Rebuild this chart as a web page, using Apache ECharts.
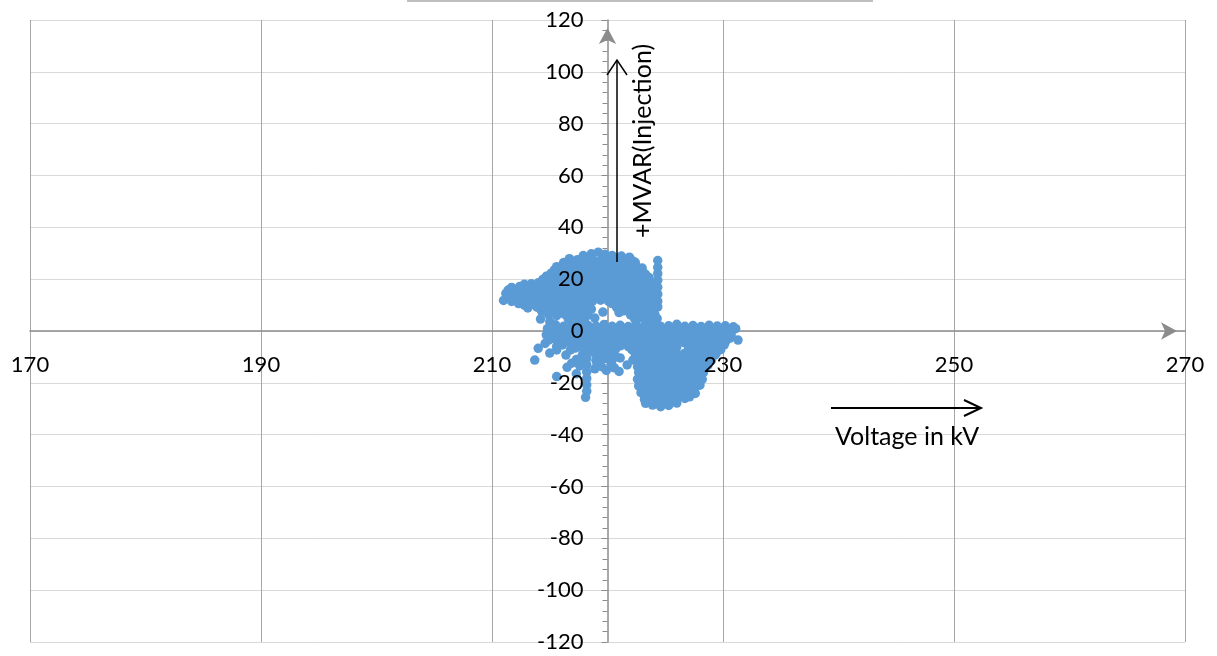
<!DOCTYPE html>
<html><head><meta charset="utf-8">
<script src="https://cdn.jsdelivr.net/npm/echarts@6/dist/echarts.min.js"></script>
<style>html,body{margin:0;padding:0;background:#fff}#c{width:1217px;height:656px}</style>
</head><body><div id="c"></div>
<script>
// Axis definitions
const xMin = 170, xMax = 270, xStep = 20;
const yMin = -120, yMax = 120, yStep = 20;
const yAxisCrossAt = 220; // vertical axis crosses horizontal axis at 220 kV

// Voltage (kV), MVAR pairs — upper (injection) cluster
const upperPoints = [
  [217.9,29.1],[218.6,29.8],[219.2,30.4],[219.8,29.6],[220.4,29.1],[221.2,28.9],[221.9,28.5],
  [216.7,27.9],[217.4,27.5],[218.1,27.8],[218.8,27.3],[219.5,27.7],[220.2,27.4],[220.9,27.9],[221.6,27.3],[222.2,27.0],[224.35,27.2],
  [216.2,26.4],[216.9,26.7],[217.6,26.2],[218.3,26.6],[219.0,26.3],[219.7,26.7],[220.4,26.2],[221.1,26.6],[221.8,26.3],[222.4,26.5],
  [215.6,24.8],[216.2,25.3],[216.9,24.9],[217.6,25.4],[218.3,25.0],[219.0,25.2],[219.7,24.8],[220.4,25.3],[221.1,25.0],[221.8,25.4],[222.5,24.9],[223.0,24.3],[224.35,24.6],
  [215.4,23.6],[216.1,24.0],[216.8,23.7],[217.5,24.1],[218.2,23.6],[218.9,23.9],[219.6,23.5],[220.3,24.0],[221.0,23.7],[221.7,24.0],[222.4,23.6],[223.0,23.2],
  [215.1,22.2],[215.8,22.7],[216.5,22.3],[217.2,22.6],[217.9,22.1],[218.6,22.5],[219.3,22.2],[220.0,22.7],[220.7,22.3],[221.4,22.6],[222.1,22.2],[222.8,22.5],[223.3,21.9],[224.35,22.1],
  [214.7,21.1],[215.4,20.8],[216.1,21.2],[216.8,20.9],[217.5,21.3],[218.2,20.8],[218.9,21.2],[219.6,20.9],[220.3,21.3],[221.0,20.8],[221.7,21.1],[222.4,20.8],[223.1,21.2],[223.6,20.6],
  [214.4,19.9],[215.1,19.5],[215.8,19.9],[216.5,19.4],[217.2,19.8],[217.9,19.5],[218.6,19.9],[219.3,19.6],[220.0,19.8],[220.7,19.4],[221.4,19.9],[222.1,19.5],[222.8,19.8],[223.5,19.3],[224.35,19.6],
  [212.8,18.0],[213.4,18.2],[214.0,18.6],[214.8,18.2],[215.5,18.5],[216.2,18.1],[216.9,18.4],[217.6,18.0],[218.3,18.5],[219.0,18.2],[219.7,18.4],[220.4,18.0],[221.1,18.5],[221.8,18.1],[222.5,18.4],[223.2,18.0],[223.8,18.4],
  [211.7,16.8],[212.4,17.2],[213.1,16.9],[213.8,17.3],[214.5,16.8],[215.2,17.1],[215.9,16.7],[216.6,17.2],[217.3,16.9],[218.0,17.3],[218.7,16.8],[219.4,17.1],[220.1,16.7],[220.8,17.2],[221.5,16.9],[222.2,17.3],[222.9,16.8],[223.6,17.1],[224.35,16.9],
  [211.4,15.8],[212.0,15.4],[212.7,15.7],[213.4,15.3],[214.1,15.8],[214.8,15.4],[215.5,15.7],[216.2,15.3],[216.9,15.8],[217.6,15.4],[218.3,15.7],[219.0,15.3],[219.7,15.8],[220.4,15.4],[221.1,15.7],[221.8,15.3],[222.5,15.8],[223.2,15.4],[223.8,15.7],
  [211.2,14.5],[211.9,14.1],[212.6,14.6],[213.3,14.2],[214.0,14.5],[214.7,14.0],[215.4,14.4],[216.1,14.1],[216.8,14.6],[217.5,14.2],[218.2,14.5],[218.9,14.0],[219.6,14.4],[220.3,14.1],[221.0,14.6],[221.7,14.2],[222.4,14.5],[223.1,14.0],[223.7,14.4],[224.35,14.2],
  [211.5,12.8],[212.2,13.1],[212.9,12.7],[213.6,13.2],[214.3,12.8],[215.0,13.1],[215.7,12.7],[216.4,13.2],[217.1,12.8],[217.8,13.1],[218.5,12.7],[219.2,13.2],[219.9,12.8],[220.6,13.1],[221.3,12.7],[222.0,13.2],[222.7,12.8],[223.4,13.1],[224.0,12.6],
  [211.0,11.8],[211.7,11.4],[212.4,11.7],[213.1,11.3],[213.8,11.8],[214.5,11.5],[215.2,11.9],[215.9,11.4],[216.6,11.7],[217.3,11.3],[218.0,11.8],[218.7,11.5],[219.4,11.9],[220.1,11.4],[220.8,11.7],[221.5,11.3],[222.2,11.8],[222.9,11.4],[223.6,11.7],[224.35,11.5],
  [212.3,10.6],[212.8,10.0],[213.5,10.4],[214.2,10.1],[214.9,10.5],[215.6,10.0],[216.3,10.3],[217.0,10.1],[217.7,10.4],[218.4,10.0],[220.4,10.6],[221.1,10.2],[221.8,10.5],[222.5,10.0],[223.2,10.4],[223.9,10.1],
  [213.1,8.9],[213.9,9.2],[214.6,8.7],[215.3,9.1],[216.0,8.6],[216.7,9.0],[217.4,8.7],[218.1,9.1],[218.6,8.4],[220.8,9.0],[221.4,9.4],[222.1,8.7],[222.8,9.1],[223.5,8.6],[224.35,9.3],
  [214.3,7.6],[215.0,7.4],[215.7,7.8],[216.4,7.4],[217.1,7.7],[217.8,7.3],[218.2,7.9],[221.4,7.8],[222.4,7.6],[223.1,7.9],[223.8,7.4],
  [214.2,4.6],[214.9,6.3],[215.0,3.6],[215.6,5.9],[216.3,6.4],[217.0,6.0],[217.7,6.5],[218.3,6.1],[218.9,5.0],[219.6,7.3],[221.0,7.1],[222.0,6.2],[222.7,6.5],[223.4,6.0],[224.1,6.4],
  [216.6,4.7],[217.4,4.5],[218.0,4.3],[222.3,5.2],[222.4,4.3],[223.0,5.0],[223.6,4.0],[223.7,5.3],[224.3,4.8]
];

// Near-zero band
const bandPoints = [
  [215.5,2.4],[216.2,1.8],[216.9,2.3],[217.6,1.7],[218.3,2.2],[219.0,1.9],[219.7,2.5],[220.4,1.8],[221.1,2.2],[221.8,1.7],[222.5,2.3],[223.2,1.9],[223.9,2.4],[224.6,1.8],[225.3,2.0],[226.0,2.6],[226.7,1.8],[227.4,2.1],[228.1,1.7],[228.8,2.2],[229.5,1.9],[230.2,2.0],[230.9,1.6],
  [214.8,0.9],[215.6,0.8],[216.3,0.5],[217.0,0.9],[217.7,0.4],[218.4,0.8],[219.1,0.5],[219.8,0.9],[220.5,0.4],[221.2,0.8],[221.9,0.5],[222.6,0.9],[223.3,0.4],[224.0,0.8],[224.7,0.5],[225.4,0.9],[226.1,0.4],[226.8,0.8],[227.5,0.5],[228.2,0.9],[228.9,0.4],[229.6,0.8],[230.3,0.5],[230.8,0.3],
  [215.2,-0.4],[215.9,-0.9],[216.6,-0.3],[217.3,-0.8],[218.0,-0.2],[218.7,-0.7],[219.4,-0.3],[220.1,-0.9],[220.8,-0.4],[221.5,-0.8],[222.2,-0.2],[222.9,-0.7],[223.6,-0.3],[224.3,-0.9],[225.0,-0.4],[225.7,-0.8],[226.4,-0.3],[227.1,-0.7],[227.8,-0.2],[228.5,-0.8],[229.2,-0.4],[229.9,-0.7],[230.6,-0.3],[231.1,0.9],
  [214.7,-1.5],[215.5,-1.8],[216.2,-2.1],[216.9,-1.7],[217.6,-2.2],[218.3,-1.8],[219.0,-2.0],[219.7,-1.6],[220.4,-2.1],[221.1,-1.8],[221.8,-2.2],[222.5,-1.7],[223.2,-2.0],[223.9,-1.6],[224.6,-2.1],[225.3,-1.8],[226.0,-2.2],[226.7,-1.7],[227.4,-2.0],[228.1,-1.8],[228.8,-2.1],[229.5,-1.7],[230.2,-2.0],[230.7,-1.6],
  [214.9,-3.5],[215.4,-3.0],[216.1,-3.5],[216.8,-2.9],[217.5,-3.4],[218.2,-3.0],[218.9,-3.6],[219.6,-2.9],[220.3,-3.4],[221.0,-3.1],[221.7,-3.5],[222.4,-2.9],[223.1,-3.4],[223.8,-3.0],[224.5,-3.6],[225.2,-3.1],[225.9,-3.4],[226.6,-2.9],[227.3,-3.5],[228.0,-3.0],[228.7,-3.4],[229.4,-3.1],[230.1,-3.3],[230.6,-2.8],[231.3,-3.5]
];

// Lower (absorption) cluster
const lowerPoints = [
  [216.2,-4.4],[216.9,-4.7],[217.6,-4.3],[218.3,-4.6],[219.0,-4.4],[219.7,-4.8],[220.4,-4.3],[221.1,-4.6],[221.8,-4.4],[222.5,-4.7],[223.2,-4.3],[223.9,-4.6],[224.6,-4.4],[225.3,-4.8],[226.0,-4.3],[226.7,-4.6],[227.4,-4.4],[228.1,-4.7],[228.8,-4.3],[229.5,-4.6],[230.2,-4.3],
  [214.6,-4.8],[215.6,-5.9],[216.1,-5.4],[216.9,-5.6],[217.6,-6.1],[218.3,-5.5],[219.0,-6.0],[219.7,-5.6],[220.4,-6.2],[221.1,-5.7],[221.8,-6.0],[222.5,-5.5],[223.2,-6.1],[223.9,-5.7],[224.6,-6.0],[225.3,-5.6],[226.0,-6.2],[227.4,-5.7],[228.1,-6.0],[228.8,-5.5],[229.5,-5.9],[230.1,-5.4],
  [216.8,-7.3],[217.9,-7.0],[218.6,-7.3],[219.3,-6.9],[220.0,-7.2],[220.7,-7.0],[222.1,-7.2],[222.8,-6.9],[223.5,-7.3],[224.2,-7.0],[224.9,-7.2],[225.6,-6.9],[227.0,-7.1],[227.7,-6.9],[228.4,-7.3],[229.1,-7.0],[229.8,-7.2],
  [214.0,-6.7],[215.0,-8.5],[215.6,-7.3],[216.4,-9.3],[217.2,-6.6],[218.2,-8.3],[218.9,-8.6],[219.6,-8.1],[220.3,-8.7],[222.4,-8.8],[223.1,-8.2],[223.8,-8.6],[224.5,-8.1],[225.2,-8.7],[225.9,-8.3],[226.6,-8.8],[227.3,-8.2],[228.0,-8.6],[228.7,-8.3],[229.4,-8.7],
  [217.8,-9.5],[219.3,-9.8],[220.0,-9.5],[220.7,-9.9],[222.6,-9.6],[223.3,-9.9],[224.0,-9.5],[224.7,-9.8],[225.4,-9.5],[226.1,-9.9],[226.8,-9.6],[227.5,-9.8],[228.2,-9.5],[228.9,-9.8],[229.3,-9.3],
  [213.7,-11.2],[217.3,-11.0],[218.2,-10.5],[219.0,-11.3],[219.7,-10.6],[220.4,-11.2],[221.1,-10.4],[222.2,-11.2],[222.9,-10.8],[223.6,-11.3],[224.3,-10.7],[225.0,-11.2],[225.7,-10.8],[226.4,-11.3],[227.1,-10.7],[227.8,-11.1],[228.5,-10.8],[229.0,-11.3],
  [216.9,-12.4],[217.8,-12.1],[219.1,-12.5],[222.9,-12.2],[223.6,-12.6],[224.3,-12.1],[225.0,-12.5],[225.7,-12.2],[226.4,-12.6],[227.1,-12.1],[227.8,-12.5],[228.5,-12.3],
  [216.5,-14.0],[217.6,-13.5],[218.2,-13.0],[219.5,-13.8],[220.3,-12.8],[221.7,-13.1],[222.6,-13.8],[223.3,-13.3],[224.0,-13.9],[224.7,-13.4],[225.4,-13.8],[226.1,-13.3],[226.8,-13.9],[227.5,-13.4],[228.2,-13.8],[228.7,-13.2],
  [218.9,-14.6],[220.6,-14.2],[222.9,-14.8],[223.6,-15.2],[224.3,-14.7],[225.0,-15.1],[225.7,-14.8],[226.4,-15.2],[227.1,-14.7],[227.8,-15.1],[228.4,-14.8],
  [217.3,-16.5],[218.2,-15.8],[219.9,-15.2],[221.0,-15.6],[222.7,-16.0],[223.4,-16.5],[224.1,-16.0],[224.8,-16.4],[225.5,-15.9],[226.2,-16.5],[226.9,-16.0],[227.6,-16.4],[228.3,-16.1],
  [223.0,-17.4],[223.7,-17.8],[224.4,-17.3],[225.1,-17.7],[225.8,-17.4],[226.5,-17.8],[227.2,-17.3],[227.9,-17.6],
  [215.6,-17.6],[218.2,-18.3],[222.6,-18.6],[223.3,-19.1],[224.0,-18.6],[224.7,-19.0],[225.4,-18.5],[226.1,-19.1],[226.8,-18.6],[227.5,-19.0],[228.2,-18.7],
  [223.0,-20.0],[223.7,-20.4],[224.4,-19.9],[225.1,-20.3],[225.8,-20.0],[226.5,-20.4],[227.2,-19.9],[227.9,-20.2],
  [218.2,-20.8],[222.7,-21.2],[223.4,-21.7],[224.1,-21.2],[224.8,-21.6],[225.5,-21.1],[226.2,-21.7],[226.9,-21.3],[227.6,-21.6],[228.0,-20.9],
  [223.2,-22.6],[223.9,-22.9],[224.6,-22.5],[225.3,-22.8],[226.0,-22.4],[226.7,-22.9],[227.4,-22.6],
  [218.2,-23.2],[222.9,-23.8],[223.6,-24.3],[224.3,-23.9],[225.0,-24.4],[225.7,-23.8],[226.4,-24.2],[227.1,-23.7],[227.6,-24.1],
  [223.5,-25.1],[224.2,-25.4],[224.9,-25.0],[225.6,-25.3],[226.3,-25.0],[226.9,-24.8],
  [218.1,-25.6],[223.2,-26.4],[223.9,-26.9],[224.6,-26.5],[225.3,-26.8],[226.0,-26.3],[226.7,-26.0],[227.1,-25.4],
  [224.3,-27.6],[225.0,-27.8],[225.7,-27.2],
  [223.3,-27.9],[223.9,-28.6],[224.6,-29.2],[225.3,-28.7],[226.0,-27.8]
];

const allPoints = upperPoints.concat(bandPoints, lowerPoints);

const W = 1217, H = 656;
const gridL = 30, gridR = 32, gridT = 20, gridB = 14;
const gridW = W - gridL - gridR;
const gridH = H - gridT - gridB;
const yOffset = -(yAxisCrossAt - xMin) / (xMax - xMin) * gridW;
const xLabelOffset = -(0 - yMin) / (yMax - yMin) * gridH;

const axisGray = '#8c8c8c';
const labelFont = { fontFamily: 'Lato', fontSize: 22, color: '#000' };

const chart = echarts.init(document.getElementById('c'), null, { renderer: 'canvas' });
chart.setOption({
  animation: false,
  backgroundColor: '#fff',
  grid: { left: gridL, right: gridR, top: gridT, bottom: gridB, containLabel: false, outerBoundsMode: 'none' },
  xAxis: [
    {
      type: 'value', min: xMin, max: xMax, interval: xStep,
      axisLine: { show: true, onZero: true, onZeroAxisIndex: 0, symbol: ['none', 'arrow'], symbolSize: [13, 16], symbolOffset: [0, -8], lineStyle: { color: axisGray, width: 1.5 } },
      axisTick: { show: false },
      axisLabel: { show: false },
      splitLine: { show: true, lineStyle: { color: '#a6a6a6', width: 1 } },
      z: 0
    },
    {
      type: 'value', min: xMin, max: xMax, interval: xStep, position: 'bottom', offset: xLabelOffset,
      axisLine: { show: false, onZero: false },
      axisTick: { show: false },
      splitLine: { show: false },
      axisLabel: Object.assign({ show: true, margin: 23, showMinLabel: true, showMaxLabel: true }, labelFont),
      z: 5
    }
  ],
  yAxis: [
    {
      type: 'value', min: yMin, max: yMax, interval: yStep, position: 'left', offset: yOffset,
      axisLine: { show: true, onZero: false, symbol: ['none', 'arrow'], symbolSize: [13, 16], symbolOffset: [0, -8], lineStyle: { color: axisGray, width: 1.5 } },
      axisTick: { show: true, length: 6, lineStyle: { color: axisGray, width: 1 } },
      minorTick: { show: true, splitNumber: 5, length: 5, lineStyle: { color: axisGray, width: 1 } },
      axisLabel: { show: false },
      splitLine: { show: true, lineStyle: { color: '#d9d9d9', width: 1 } },
      z: 0
    },
    {
      type: 'value', min: yMin, max: yMax, interval: yStep, position: 'left', offset: yOffset,
      axisLine: { show: false, onZero: false },
      axisTick: { show: false },
      splitLine: { show: false },
      axisLabel: Object.assign({ show: true, margin: 24, showMinLabel: true, showMaxLabel: true }, labelFont),
      z: 5
    }
  ],
  series: [{
    type: 'scatter',
    xAxisIndex: 0, yAxisIndex: 0,
    data: allPoints,
    symbol: 'circle',
    symbolSize: 9.5,
    itemStyle: { color: '#5b9bd5', opacity: 1 },
    silent: true,
    z: 2
  }],
  graphic: [
    { type: 'line', z: 100, shape: { x1: 407, y1: 1, x2: 873, y2: 1 }, style: { stroke: '#bfbfbf', lineWidth: 2 } },
    { type: 'line', z: 100, shape: { x1: 617, y1: 262, x2: 617, y2: 61 }, style: { stroke: '#000', lineWidth: 1.5 } },
    { type: 'polyline', z: 100, shape: { points: [[607, 75], [617, 60], [627, 75]] }, style: { stroke: '#000', lineWidth: 1.5, fill: null } },
    { type: 'text', z: 100, x: 643, y: 141, rotation: Math.PI / 2,
      style: { text: '+MVAR(Injection)', font: '25px Lato', fill: '#000', align: 'center', verticalAlign: 'middle', textAlign: 'center', textVerticalAlign: 'middle' } },
    { type: 'line', z: 100, shape: { x1: 831, y1: 408, x2: 980, y2: 408 }, style: { stroke: '#000', lineWidth: 2 } },
    { type: 'polyline', z: 100, shape: { points: [[964, 400], [981, 408], [964, 416]] }, style: { stroke: '#000', lineWidth: 2, fill: null } },
    { type: 'text', z: 100, x: 835, y: 437,
      style: { text: 'Voltage in kV', font: '25px Lato', fill: '#000', align: 'left', verticalAlign: 'middle', textAlign: 'left', textVerticalAlign: 'middle' } }
  ]
});
</script>
</body></html>
